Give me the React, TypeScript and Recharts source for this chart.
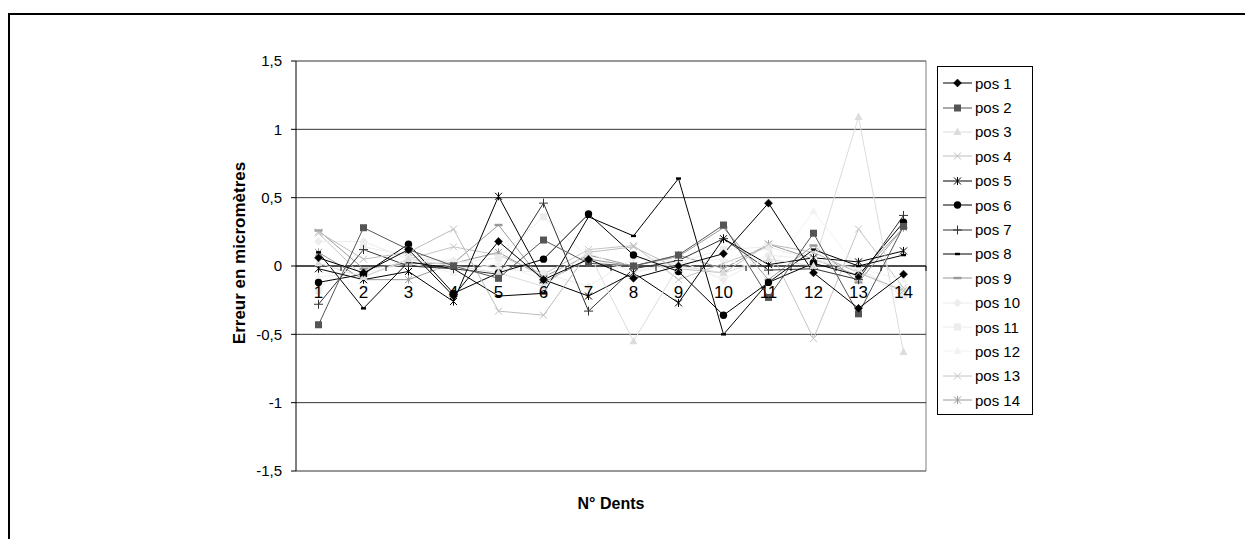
import React from 'react';
import { LineChart, Line, XAxis, YAxis, CartesianGrid, ReferenceLine, Legend, Label } from 'recharts';

const categories = ['1', '2', '3', '4', '5', '6', '7', '8', '9', '10', '11', '12', '13', '14'];
const yTicks = [-1.5, -1, -0.5, 0, 0.5, 1, 1.5];

const pos1 = [0.06, -0.05, 0.12, -0.22, 0.18, -0.10, 0.05, -0.09, 0.00, 0.09, 0.46, -0.05, -0.31, -0.06];
const pos2 = [-0.43, 0.28, 0.12, 0.00, -0.09, 0.19, 0.02, 0.00, 0.08, 0.30, -0.23, 0.24, -0.35, 0.29];
const pos3 = [0.02, -0.08, 0.05, 0.00, -0.05, -0.15, 0.10, -0.55, 0.00, -0.05, 0.05, 0.00, 1.09, -0.63];
const pos4 = [0.25, 0.05, 0.10, 0.27, -0.33, -0.36, 0.10, 0.14, -0.02, -0.05, 0.16, 0.10, -0.05, -0.18];
const pos5 = [-0.02, -0.10, -0.04, -0.26, 0.51, -0.10, -0.22, -0.05, -0.27, 0.20, 0.01, 0.06, 0.03, 0.11];
const pos6 = [-0.12, -0.06, 0.16, -0.20, -0.05, 0.05, 0.38, 0.08, -0.04, -0.36, -0.12, 0.02, -0.07, 0.32];
const pos7 = [-0.28, 0.12, 0.00, -0.02, -0.06, 0.46, -0.33, -0.02, 0.04, 0.20, -0.03, -0.02, -0.10, 0.37];
const pos8 = [0.10, -0.31, 0.03, -0.02, -0.22, -0.20, 0.36, 0.22, 0.64, -0.50, -0.12, 0.12, 0.00, 0.08];
const pos9 = [0.26, -0.02, 0.02, 0.02, 0.30, -0.12, 0.05, 0.00, 0.07, 0.28, -0.10, 0.15, -0.12, 0.28];
const pos10 = [0.18, 0.18, 0.05, 0.04, -0.02, -0.05, -0.15, 0.06, 0.04, -0.10, 0.08, 0.05, -0.02, -0.20];
const pos11 = [-0.18, 0.14, 0.08, 0.02, 0.06, 0.36, 0.06, -0.04, 0.03, 0.12, 0.14, 0.04, -0.03, -0.22];
const pos12 = [-0.08, -0.05, 0.02, -0.05, 0.02, -0.10, 0.10, -0.05, 0.02, 0.05, -0.05, 0.40, -0.02, -0.10];
const pos13 = [0.24, -0.08, 0.05, 0.14, 0.08, -0.06, 0.12, 0.15, -0.10, 0.02, 0.14, -0.53, 0.27, -0.16];
const pos14 = [0.10, -0.10, -0.10, 0.02, 0.10, -0.08, 0.08, 0.00, 0.08, -0.02, 0.16, 0.05, -0.07, 0.28];

const seriesNames = ['pos 1', 'pos 2', 'pos 3', 'pos 4', 'pos 5', 'pos 6', 'pos 7', 'pos 8', 'pos 9', 'pos 10', 'pos 11', 'pos 12', 'pos 13', 'pos 14'];
const seriesValues = [pos1, pos2, pos3, pos4, pos5, pos6, pos7, pos8, pos9, pos10, pos11, pos12, pos13, pos14];
const seriesColors = ['#000000', '#555555', '#dcdcdc', '#bdbdbd', '#000000', '#000000', '#333333', '#000000', '#999999', '#ececec', '#ececec', '#f2f2f2', '#c4c4c4', '#9a9a9a'];
const seriesShapes = ['diamond', 'square', 'triangle', 'x', 'star', 'circle', 'plus', 'dash', 'dashWide', 'diamond', 'square', 'triangle', 'x', 'star'];

const data = categories.map((c, i) => {
  const row: any = { cat: c };
  seriesValues.forEach((vals, s) => {
    row[`s${s + 1}`] = vals[i];
  });
  return row;
});

const FONT = '"Liberation Sans", Arial, sans-serif';
const W = 1245;
const H = 539;
const PLOT_LEFT = 296;
const PLOT_RIGHT = 926;
const PLOT_TOP = 61;
const PLOT_BOTTOM = 471;
const PH = PLOT_BOTTOM - PLOT_TOP;
const BAND = (PLOT_RIGHT - PLOT_LEFT) / categories.length;
const Y_AXIS_W = 114;
const X_AXIS_H = 50;

function Marker({ shape, cx, cy, color }: { shape: string; cx: number; cy: number; color: string }) {
  switch (shape) {
    case 'diamond':
      return <path d={`M${cx},${cy - 4}L${cx + 4},${cy}L${cx},${cy + 4}L${cx - 4},${cy}Z`} fill={color} stroke={color} strokeWidth={0.5} />;
    case 'square':
      return <rect x={cx - 3.5} y={cy - 3.5} width={7} height={7} fill={color} />;
    case 'triangle':
      return <path d={`M${cx},${cy - 4.5}L${cx + 4},${cy + 3}L${cx - 4},${cy + 3}Z`} fill={color} />;
    case 'x':
      return (
        <g stroke={color} strokeWidth={1}>
          <line x1={cx - 3.5} y1={cy - 3.5} x2={cx + 3.5} y2={cy + 3.5} />
          <line x1={cx - 3.5} y1={cy + 3.5} x2={cx + 3.5} y2={cy - 3.5} />
        </g>
      );
    case 'star':
      return (
        <g stroke={color} strokeWidth={1}>
          <line x1={cx - 3.5} y1={cy - 3.5} x2={cx + 3.5} y2={cy + 3.5} />
          <line x1={cx - 3.5} y1={cy + 3.5} x2={cx + 3.5} y2={cy - 3.5} />
          <line x1={cx} y1={cy - 4} x2={cx} y2={cy + 4} />
        </g>
      );
    case 'circle':
      return <circle cx={cx} cy={cy} r={3.7} fill={color} />;
    case 'plus':
      return (
        <g stroke={color} strokeWidth={1}>
          <line x1={cx - 4.5} y1={cy} x2={cx + 4.5} y2={cy} />
          <line x1={cx} y1={cy - 4.5} x2={cx} y2={cy + 4.5} />
        </g>
      );
    case 'dash':
      return <rect x={cx - 2.5} y={cy - 1.2} width={5} height={2.4} fill={color} />;
    case 'dashWide':
      return <rect x={cx - 4} y={cy - 1.2} width={8} height={2.4} fill={color} />;
    default:
      return null;
  }
}

function makeDot(shape: string, color: string, key: string) {
  return (p: any) => {
    if (p.cx == null || p.cy == null) return <g key={`${key}-${p.index}`} />;
    return (
      <g key={`${key}-${p.index}`}>
        <Marker shape={shape} cx={p.cx} cy={p.cy} color={color} />
      </g>
    );
  };
}

function XTick(props: any) {
  const { x, y, payload } = props;
  const zeroY = y - PH / 2;
  return (
    <g>
      <line x1={x + BAND / 2} x2={x + BAND / 2} y1={zeroY} y2={zeroY + 5} stroke="#000" />
      <text x={x} y={zeroY + 32} textAnchor="middle" fontSize={17} fontFamily={FONT} fill="#000">
        {payload.value}
      </text>
    </g>
  );
}

function LegendBox() {
  return (
    <div
      style={{
        width: 96,
        height: 349,
        boxSizing: 'border-box',
        border: '1px solid #000',
        paddingTop: 4,
        background: '#fff',
        fontFamily: FONT,
        fontSize: 15,
        color: '#000',
      }}
    >
      {seriesNames.map((name, i) => (
        <div key={name} style={{ height: 24.4, display: 'flex', alignItems: 'center' }}>
          <svg width={29} height={12} style={{ marginLeft: 5, overflow: 'visible', flex: 'none' }}>
            <line x1={0} x2={29} y1={6} y2={6} stroke={seriesColors[i]} strokeWidth={1} />
            <Marker shape={seriesShapes[i]} cx={14.5} cy={6} color={seriesColors[i]} />
          </svg>
          <span style={{ marginLeft: 3, lineHeight: '15px', whiteSpace: 'nowrap' }}>{name}</span>
        </div>
      ))}
    </div>
  );
}

export default function App() {
  return (
    <div style={{ position: 'absolute', left: 0, top: 0, width: W, height: H, background: '#fff', overflow: 'hidden' }}>
      <div
        style={{
          position: 'absolute',
          left: 8,
          top: 13,
          width: W - 8 - 2,
          height: H - 13 - 2,
          borderLeft: '2px solid #000',
          borderTop: '2px solid #000',
        }}
      />
      <div style={{ position: 'absolute', left: 0, top: 0 }}>
        <LineChart
          width={W}
          height={H}
          data={data}
          margin={{ top: PLOT_TOP, right: W - PLOT_RIGHT, left: PLOT_LEFT - Y_AXIS_W, bottom: H - PLOT_BOTTOM - X_AXIS_H }}
        >
          <CartesianGrid
            horizontal={false}
            vertical
            stroke="#808080"
            verticalCoordinatesGenerator={(p: any) => [p.offset.left + p.offset.width]}
          />
          <CartesianGrid vertical={false} stroke="#333" strokeWidth={1} />
          <ReferenceLine y={0} stroke="#000" strokeWidth={1} />
          <XAxis
            dataKey="cat"
            interval={0}
            axisLine={false}
            tickLine={false}
            tickSize={0}
            tickMargin={0}
            height={X_AXIS_H}
            padding={{ left: BAND / 2, right: BAND / 2 }}
            tick={<XTick />}
          >
            <Label
              content={(p: any) => {
                const vb = p.viewBox;
                return (
                  <text
                    x={vb.x + vb.width / 2}
                    y={vb.y + 32}
                    textAnchor="middle"
                    dominantBaseline="central"
                    fontSize={16}
                    fontWeight="bold"
                    fontFamily={FONT}
                    fill="#000"
                  >
                    N° Dents
                  </text>
                );
              }}
            />
          </XAxis>
          <YAxis
            type="number"
            domain={[-1.5, 1.5]}
            ticks={yTicks}
            interval={0}
            width={Y_AXIS_W}
            axisLine={{ stroke: '#000' }}
            tickLine={{ stroke: '#000' }}
            tickSize={5}
            tickMargin={9}
            tick={{ fontSize: 15, fontFamily: FONT, fill: '#000' }}
            tickFormatter={(v: number) => String(v).replace('.', ',')}
          >
            <Label
              content={(p: any) => {
                const vb = p.viewBox;
                const cx = vb.x + vb.width / 2;
                const cy = vb.y + vb.height / 2 - 13;
                return (
                  <text
                    x={cx}
                    y={cy}
                    transform={`rotate(-90 ${cx} ${cy})`}
                    textAnchor="middle"
                    dominantBaseline="central"
                    fontSize={17}
                    fontWeight="bold"
                    fontFamily={FONT}
                    fill="#000"
                  >
                    Erreur en micromètres
                  </text>
                );
              }}
            />
          </YAxis>
          {seriesNames.map((name, s) => (
            <Line
              key={name}
              type="linear"
              dataKey={`s${s + 1}`}
              name={name}
              stroke={seriesColors[s]}
              strokeWidth={1}
              dot={makeDot(seriesShapes[s], seriesColors[s], `s${s + 1}`)}
              activeDot={false}
              isAnimationActive={false}
            />
          )).reverse()}
          <Legend
            layout="horizontal"
            verticalAlign="middle"
            align="center"
            wrapperStyle={{ left: 937, top: 66, width: 96, height: 349 }}
            content={() => <LegendBox />}
          />
        </LineChart>
      </div>
    </div>
  );
}
